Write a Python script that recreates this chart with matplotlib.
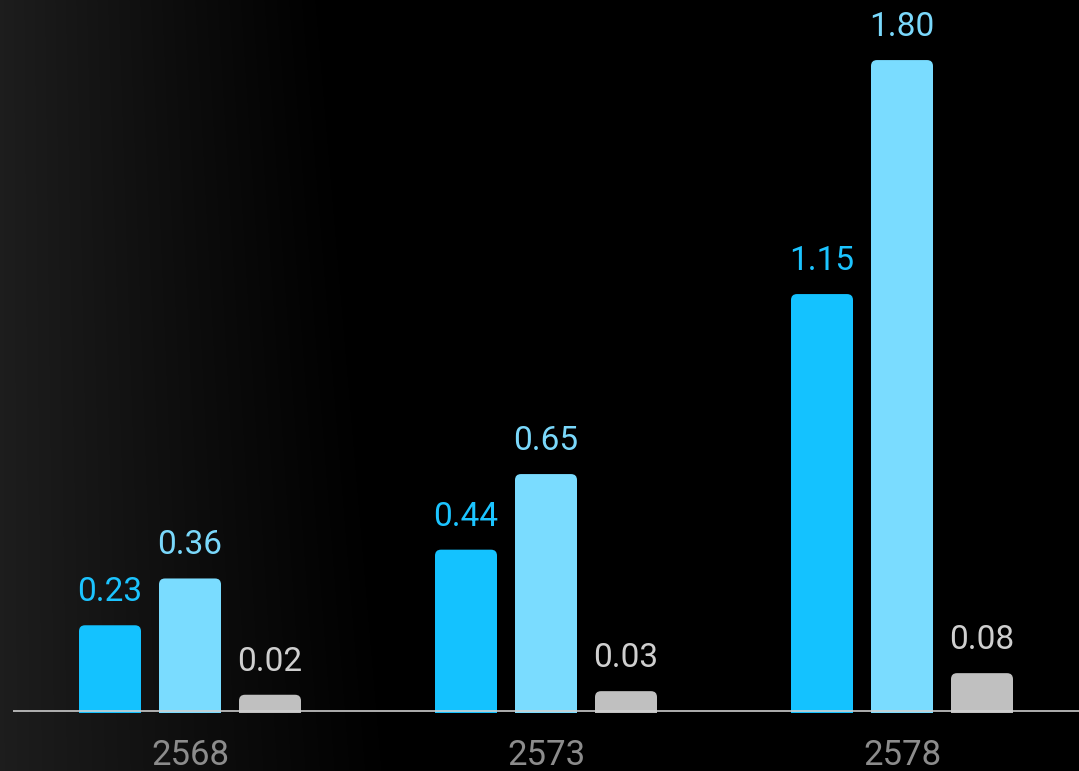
import numpy as np
import matplotlib
matplotlib.use("Agg")
import matplotlib.pyplot as plt
from matplotlib.patches import FancyBboxPatch

# --- DATA ---
years = ["2568", "2573", "2578"]
series_a = [0.23, 0.44, 1.15]
series_b = [0.36, 0.65, 1.80]
series_c = [0.02, 0.03, 0.08]

bar_colors = ["#14c2ff", "#7adcff", "#c0c0c0"]
label_colors = ["#1cc4ff", "#7ad8fb", "#cfcfcf"]
# small stub added to the tiny grey bars so they stay visible
stub = [0.0, 0.0, 0.017]

plt.rcParams['font.family'] = ['Roboto', 'DejaVu Sans']

W, H = 1079, 771
fig = plt.figure(figsize=(W / 100, H / 100), dpi=100)
fig.patch.set_facecolor("black")

# --- background gradient (dark grey at left fading to black) ---
bg = fig.add_axes([0, 0, 1, 1], zorder=0)
xx, yy = np.meshgrid(np.arange(W), np.arange(H))
fade_end = 330 + 0.09 * yy  # slightly slanted edge
shade = np.clip(1 - xx / fade_end, 0, 1) ** 1.1 * 0.115
bg.imshow(np.dstack([shade, shade, shade]), aspect="auto", extent=[0, W, H, 0])
bg.axis("off")

# --- main axes ---
px_per_unit = 360.0
group_px = 356.0
base_px = 713  # bottom of the bars, from top
ax = fig.add_axes([0, (H - base_px) / H, 1, base_px / H], zorder=1)
ax.patch.set_alpha(0)
y0 = -2 / px_per_unit
ax.set_ylim(y0, y0 + base_px / px_per_unit)
ax.set_xlim(-190 / group_px, (W - 190) / group_px)
ax.axis("off")

width = 62 / group_px
step = 80 / group_px
rad = 6 / group_px
lift = 3 / px_per_unit
x = np.arange(len(years))

for k, vals in enumerate([series_a, series_b, series_c]):
    for i, v in enumerate(vals):
        xc = x[i] + (k - 1) * step
        top = v + lift + stub[k]
        patch = FancyBboxPatch(
            (xc - width / 2 + rad, -0.1 + rad), width - 2 * rad, top + 0.1 - 2 * rad,
            boxstyle=f"round,pad={rad}", mutation_aspect=group_px / px_per_unit,
            facecolor=bar_colors[k], edgecolor="none", zorder=2)
        ax.add_patch(patch)
        ax.text(xc, top + 0.047, f"{v:.2f}", ha="center", va="bottom",
                fontsize=24, color=label_colors[k], zorder=3, clip_on=False)

ax.plot([-177 / group_px, (W - 190) / group_px], [0, 0], color="#d0d0d0",
        lw=1.3, alpha=0.9, zorder=4, clip_on=False, solid_capstyle="butt")

for i, yr in enumerate(years):
    ax.text(x[i], -0.077, yr, ha="center", va="top", fontsize=25,
            color="#8c8c8c", clip_on=False)

fig.savefig("out.png", dpi=100, facecolor=fig.get_facecolor())
